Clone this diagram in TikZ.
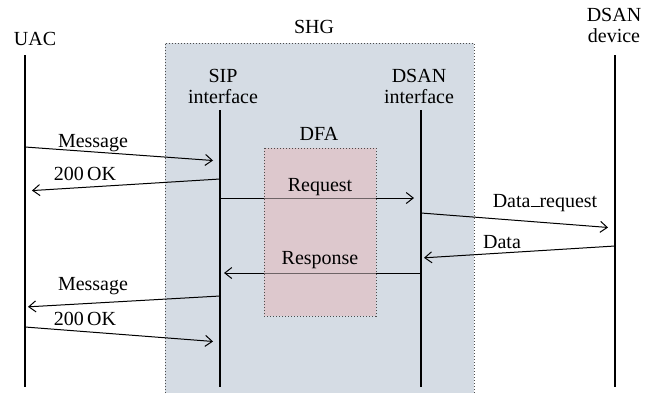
\documentclass[tikz,border=0pt]{standalone}
\usepackage{fontspec}
\setmainfont{Liberation Serif}
\usepackage{tikz}
\usetikzlibrary{arrows.meta}

\definecolor{shgblue}{RGB}{213,220,228}
\definecolor{dfapink}{RGB}{221,200,205}

\tikzset{
  lbl/.style={inner sep=0pt, anchor=base},
  head/.style={inner sep=0pt, anchor=north, align=center},
  life/.style={line width=1pt},
  msg/.style={line width=0.5pt, -{Straight Barb[length=3.5pt,width=5.5pt]}, shorten >=3.5pt},
  border/.style={line width=0.5pt, black!70, dash pattern=on 0.5pt off 1pt}
}

\begin{document}
\begin{tikzpicture}[x=0.5pt,y=-0.5pt,font=\fontsize{10}{10.5}\selectfont]
\useasboundingbox (0,0) rectangle (651,393);

% boxes
\fill[shgblue] (165,43) rectangle (474,393);
\draw[border] (165,393) -- (165,43) -- (474,43) -- (474,393);
\fill[dfapink] (264,148) rectangle (376,316);

% heads
\node[lbl] (uac) at (35,45) {UAC};
\node[lbl] (shg) at (314,33) {SHG};
\node[head] (dev) at (614,8) {DSAN\\device};
\node[head] (sip) at (223,69) {SIP\\interface};
\node[head] (dsan) at (419,69) {DSAN\\interface};
\node[lbl] (dfa) at (319,140) {DFA};

% lifelines
\coordinate (uacT) at (25,55);
\coordinate (sipT) at (220,110);
\coordinate (dsanT) at (421,110);
\coordinate (devT) at (615,55);
\draw[life] (uacT) -- (uacT |- 0,387);
\draw[life] (sipT) -- (sipT |- 0,387);
\draw[life] (dsanT) -- (dsanT |- 0,387);
\draw[life] (devT) -- (devT |- 0,387);

% messages
\draw[msg] (uacT |- 0,147) -- (sipT |- 0,161);
\draw[msg] (sipT |- 0,179) -- (uacT |- 0,191);
\draw[msg] (sipT |- 0,198) -- (dsanT |- 0,198);
\draw[msg] (dsanT |- 0,213) -- (devT |- 0,228);
\draw[msg,shorten >=1.5pt] (devT |- 0,246) -- (dsanT |- 0,258);
\draw[msg,shorten >=2pt] (dsanT |- 0,273) -- (sipT |- 0,273);
\draw[msg,shorten >=1.5pt] (sipT |- 0,296) -- (uacT |- 0,307);
\draw[msg] (uacT |- 0,327) -- (sipT |- 0,342);

% DFA on top
\fill[dfapink,opacity=0.5] (264,148) rectangle (376,316);
\draw[border] (264,148) rectangle (376,316);

% labels
\node[lbl] (msgA) at (93,147) {Message};
\node[lbl] (okA) at (85,180) {200\,OK};
\node[lbl] (req) at (320,191) {Request};
\node[lbl] (dreq) at (545,207) {Data\rule{0.45em}{0.5pt}request};
\node[lbl] (data) at (502,248) {Data};
\node[lbl] (resp) at (320,264) {Response};
\node[lbl] (msgB) at (93,290) {Message};
\node[lbl] (okB) at (85,325) {200\,OK};

\end{tikzpicture}
\end{document}
